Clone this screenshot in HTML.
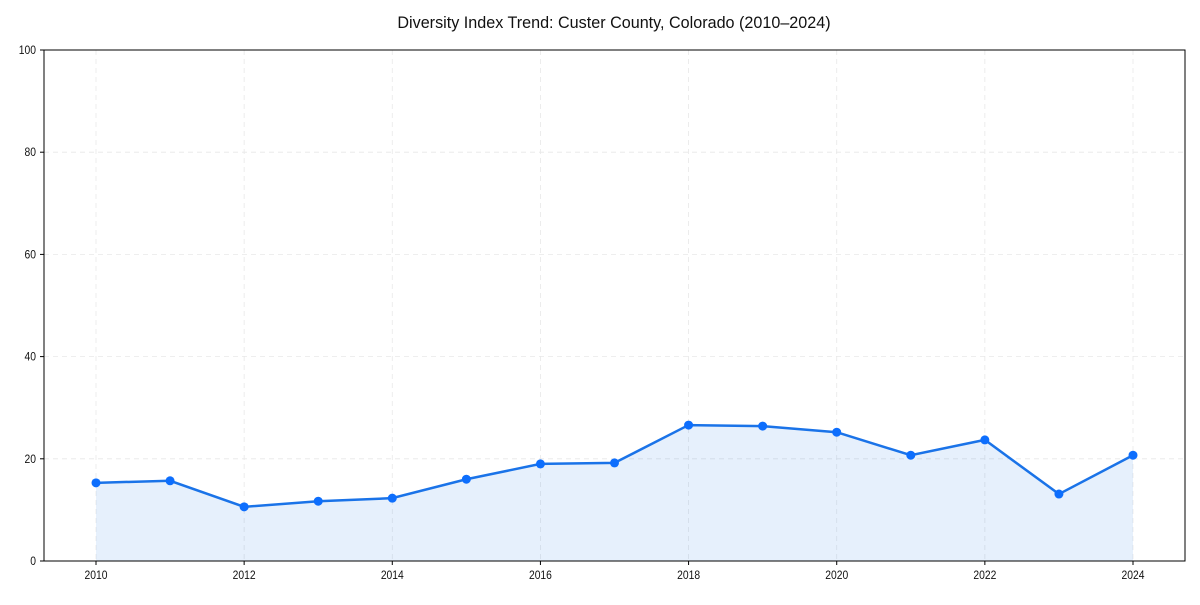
<!DOCTYPE html>
<html><head><meta charset="utf-8"><style>
body{margin:0;background:#fff;font-family:"Liberation Sans",Arial,sans-serif}
</style></head><body>
<svg id="chart" width="1200" height="600" xmlns="http://www.w3.org/2000/svg"></svg>
<script>
const years=[2010,2011,2012,2013,2014,2015,2016,2017,2018,2019,2020,2021,2022,2023,2024];
const values=[15.3,15.7,10.6,11.7,12.3,16.0,19.0,19.2,26.6,26.4,25.2,20.7,23.7,13.1,20.7];
const yTicks=[0,20,40,60,80,100];
const xTicks=[2010,2012,2014,2016,2018,2020,2022,2024];
const L=44,R=1185,T=50,B=561;
const x=v=>96+(v-2010)*(1133-96)/14;
const y=v=>B-(v/100)*(B-T);
const svg=document.getElementById('chart');
const NS='http://www.w3.org/2000/svg';
function add(tag,attrs,parent){const e=document.createElementNS(NS,tag);for(const k in attrs)e.setAttribute(k,attrs[k]);(parent||svg).appendChild(e);return e;}
function label(txt,px,py,anchor,size,sx){
 const g=add('g',{transform:'translate('+px+','+py+') scale('+sx+',1)'});
 const t=add('text',{x:0,y:0,'text-anchor':anchor,'font-size':size,fill:'#111'},g);
 t.textContent=txt;return t;
}
let t=label('Diversity Index Trend: Custer County, Colorado (2010–2024)',614,28,'middle',17,0.95);


yTicks.forEach(v=>{
 const g=add('line',{x1:L,x2:R,y1:y(v),y2:y(v),stroke:'#e8e8e8','stroke-width':0.8,'stroke-dasharray':'5,4'});
 
 
 add('line',{x1:L-4,x2:L,y1:y(v),y2:y(v),stroke:'#000'});
 const l=label(String(v),L-8,y(v)+4,'end',12,0.86);
 
 
});
xTicks.forEach(v=>{
 const g=add('line',{x1:x(v),x2:x(v),y1:T,y2:B,stroke:'#e8e8e8','stroke-width':0.8,'stroke-dasharray':'5,4'});
 
 
 add('line',{x1:x(v),x2:x(v),y1:B,y2:B+4,stroke:'#000'});
 const l=label(String(v),x(v),B+18,'middle',12,0.86);
 
 
});
const pts=years.map((yr,i)=>x(yr)+','+y(values[i])).join(' ');
const area=add('polygon',{points:x(years[0])+','+B+' '+pts+' '+x(years[years.length-1])+','+B,fill:'#1a73e8','fill-opacity':0.11});


const line=add('polyline',{points:pts,fill:'none',stroke:'#1a73e8','stroke-width':2.5});


years.forEach((yr,i)=>{
 const c=add('circle',{cx:x(yr),cy:y(values[i]),r:4.5,fill:'#0d6efd'});
 
 
});
const frame=add('rect',{x:L,y:T,width:R-L,height:B-T,fill:'none',stroke:'#000','stroke-width':1});


</script>
</body></html>
